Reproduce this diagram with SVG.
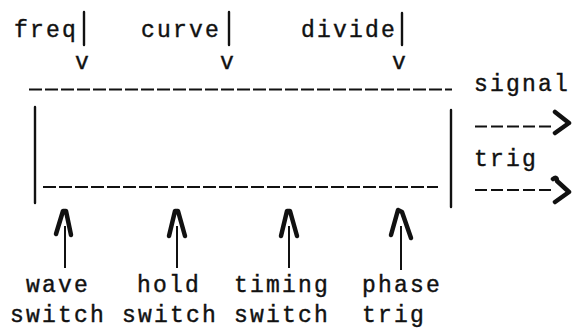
<svg xmlns="http://www.w3.org/2000/svg" width="572" height="329" viewBox="0 0 572 329">
<defs>
<style>
.t{font-family:"Liberation Mono","DejaVu Sans Mono",monospace;font-size:23px;letter-spacing:2.2px;fill:#111;stroke:#111;stroke-width:0.4}
.ln{stroke:#111;stroke-width:2.4;fill:none;stroke-linecap:round}
.dash{stroke:#111;stroke-width:2.2;fill:none;stroke-dasharray:13 3}
.sdash{stroke:#111;stroke-width:2.2;fill:none;stroke-dasharray:12 4}
.chev{stroke:#111;stroke-width:4.5;fill:none;stroke-linecap:round;stroke-linejoin:round}
.head{stroke:#111;stroke-width:4.5;fill:none;stroke-linecap:round;stroke-linejoin:round}
.stem{stroke:#111;stroke-width:2;fill:none}
</style>
</defs>
<rect width="572" height="329" fill="#fff"/>

<g id="box">
<line class="dash" x1="29" y1="89.5" x2="452" y2="89.5"/>
<line class="dash" x1="43" y1="187" x2="438" y2="187"/>
<line class="ln" x1="35" y1="107" x2="35" y2="203"/>
<line class="ln" x1="451" y1="110" x2="451" y2="207"/>
</g>

<g id="freq"><text class="t" x="14" y="37">freq</text></g>
<g id="curve"><text class="t" x="141" y="37">curve</text></g>
<g id="divide"><text class="t" x="301" y="37">divide</text></g>
<g id="signal"><text class="t" x="474" y="91">signal</text></g>
<g id="trig-out"><text class="t" x="474" y="166">trig</text></g>
<g id="wave-switch"><text class="t" x="26" y="292">wave</text><text class="t" x="10" y="322">switch</text></g>
<g id="hold-switch"><text class="t" x="137" y="292">hold</text><text class="t" x="122" y="322">switch</text></g>
<g id="timing-switch"><text class="t" x="234" y="292">timing</text><text class="t" x="234" y="322">switch</text></g>
<g id="phase-trig"><text class="t" x="362" y="292">phase</text><text class="t" x="362" y="322">trig</text></g>

<g id="connectors">
<line class="ln" x1="84" y1="12" x2="84" y2="45"/>
<line class="ln" x1="229" y1="12" x2="229" y2="45"/>
<line class="ln" x1="402" y1="13" x2="402" y2="45"/>
<text class="t" x="83" y="69" text-anchor="middle">v</text>
<text class="t" x="228" y="69" text-anchor="middle">v</text>
<text class="t" x="400" y="69" text-anchor="middle">v</text>

<line class="sdash" x1="475" y1="126.5" x2="552" y2="126.5"/>
<path class="chev" d="M555,112 L569,123 L555,133"/>
<line class="sdash" x1="475" y1="190" x2="552" y2="190"/>
<path class="chev" d="M553,179 Q557,176 557,181 L569,192 L555,202"/>

<line class="stem" x1="65" y1="226" x2="65" y2="268"/>
<path class="head" d="M56,234 L63,211 L66,211 L71,235"/>
<line class="stem" x1="177" y1="226" x2="177" y2="268"/>
<path class="head" d="M169,236 L175,211 L178,211 L185,236"/>
<line class="stem" x1="289" y1="226" x2="289" y2="268"/>
<path class="head" d="M281,236 L287,211 L290,211 L297,236"/>
<line class="stem" x1="401" y1="226" x2="401" y2="270"/>
<path class="head" d="M391,235 L398,210 L402,212 L411,238"/>
</g>
</svg>
